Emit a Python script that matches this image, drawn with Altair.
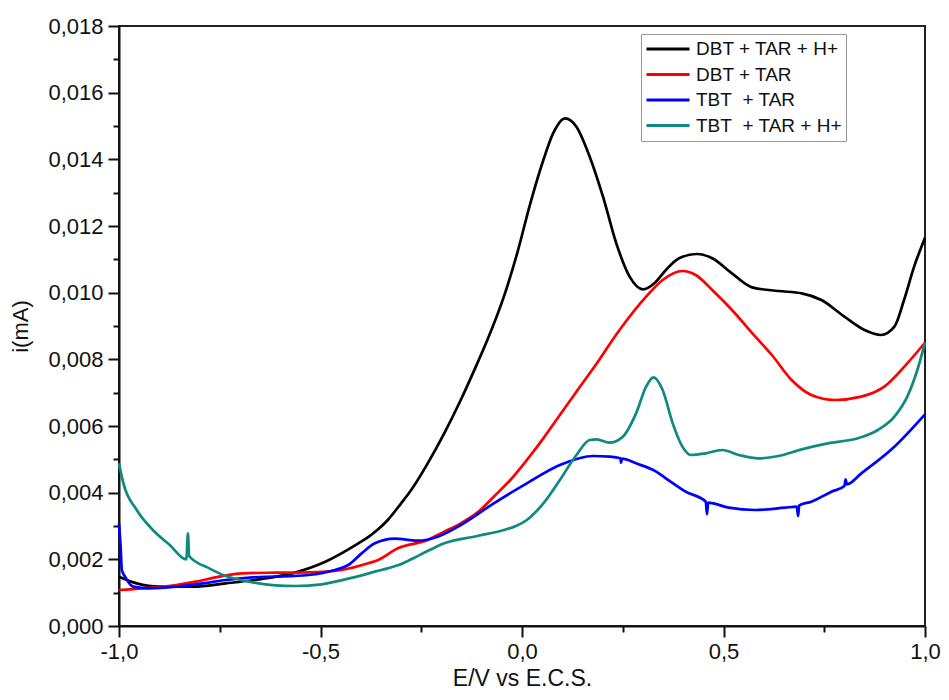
import altair as alt
import pandas as pd

# ---- data ----
series_names = ["DBT + TAR + H+", "DBT + TAR", "TBT\u00a0 + TAR", "TBT\u00a0 + TAR + H+"]
series_colors = ["#000000", "#ff0000", "#0000ff", "#0e8a80"]

E_black = [-1.0, -0.956, -0.899, -0.817, -0.735, -0.653, -0.571, -0.488, -0.406, -0.380,
           -0.357, -0.333, -0.300, -0.275, -0.234, -0.193, -0.152, -0.111, -0.086, -0.045,
           -0.012, 0.020, 0.053, 0.078, 0.107, 0.135, 0.168, 0.201, 0.234, 0.267,
           0.300, 0.330, 0.357, 0.390, 0.435, 0.472, 0.521, 0.571, 0.636, 0.694,
           0.743, 0.800, 0.850, 0.891, 0.924, 0.948, 0.973, 1.0]
I_black = [0.00148, 0.00128, 0.00118, 0.00118, 0.00128, 0.00140, 0.00158, 0.00193, 0.00248, 0.00268,
           0.00290, 0.00318, 0.00368, 0.00408, 0.00488, 0.00578, 0.00678, 0.00788, 0.00858, 0.00988,
           0.01118, 0.01265, 0.01398, 0.01480, 0.01523, 0.01498, 0.01408, 0.01288, 0.01148, 0.01048,
           0.01010, 0.01030, 0.01068, 0.01103, 0.01116, 0.01103, 0.01058, 0.01016, 0.01005, 0.00998,
           0.00978, 0.00928, 0.00888, 0.00873, 0.00898, 0.00978, 0.01078, 0.01165]

E_red = [-1.0, -0.940, -0.858, -0.809, -0.751, -0.694, -0.612, -0.530, -0.448, -0.382,
         -0.357, -0.308, -0.234, -0.193, -0.152, -0.111, -0.070, -0.029, 0.012, 0.053,
         0.094, 0.135, 0.177, 0.242, 0.308, 0.349, 0.398, 0.431, 0.472, 0.521,
         0.579, 0.620, 0.669, 0.718, 0.776, 0.842, 0.899, 0.956, 1.0]
I_red = [0.00108, 0.00113, 0.00123, 0.00133, 0.00148, 0.00158, 0.00160, 0.00161, 0.00168, 0.00188,
         0.00198, 0.00233, 0.00258, 0.00283, 0.00308, 0.00340, 0.00388, 0.00438, 0.00498, 0.00563,
         0.00633, 0.00703, 0.00773, 0.00888, 0.00988, 0.01038, 0.01065, 0.01053, 0.01008, 0.00948,
         0.00868, 0.00813, 0.00738, 0.00693, 0.00678, 0.00688, 0.00718, 0.00788, 0.00850]

E_blue = [-1.0, -0.996, -0.993, -0.985, -0.965, -0.924, -0.858, -0.792, -0.735, -0.669,
          -0.612, -0.530, -0.464, -0.431, -0.398, -0.365, -0.316, -0.259, -0.209, -0.152,
          -0.070, 0.012, 0.094, 0.177, 0.217, 0.244, 0.246, 0.248, 0.283, 0.333,
          0.357, 0.406, 0.456, 0.459, 0.462, 0.513, 0.579, 0.653, 0.682, 0.685,
          0.688, 0.718, 0.768, 0.800, 0.803, 0.806, 0.842, 0.924, 1.0]
I_blue = [0.00308, 0.00238, 0.00168, 0.00148, 0.00118, 0.00113, 0.00118, 0.00128, 0.00138, 0.00146,
          0.00148, 0.00153, 0.00168, 0.00183, 0.00218, 0.00248, 0.00262, 0.00256, 0.00268, 0.00303,
          0.00368, 0.00428, 0.00483, 0.00510, 0.00508, 0.00503, 0.00490, 0.00502, 0.00488, 0.00463,
          0.00443, 0.00403, 0.00373, 0.00335, 0.00370, 0.00355, 0.00348, 0.00355, 0.00358, 0.00330,
          0.00362, 0.00373, 0.00403, 0.00420, 0.00440, 0.00425, 0.00458, 0.00538, 0.00635]

E_teal = [-1.0, -0.989, -0.956, -0.916, -0.874, -0.833, -0.829, -0.826, -0.776, -0.735,
          -0.677, -0.612, -0.562, -0.497, -0.431, -0.398, -0.365, -0.333, -0.308, -0.275,
          -0.234, -0.193, -0.111, -0.045, -0.015, 0.012, 0.053, 0.094, 0.135, 0.168,
          0.185, 0.217, 0.250, 0.283, 0.308, 0.326, 0.349, 0.374, 0.398, 0.419,
          0.456, 0.497, 0.538, 0.587, 0.636, 0.694, 0.759, 0.833, 0.883, 0.924,
          0.956, 0.981, 1.0]
I_teal = [0.00488, 0.00428, 0.00348, 0.00288, 0.00243, 0.00200, 0.00278, 0.00210, 0.00173, 0.00150,
          0.00133, 0.00122, 0.00120, 0.00125, 0.00142, 0.00152, 0.00163, 0.00173, 0.00182, 0.00200,
          0.00225, 0.00248, 0.00270, 0.00288, 0.00300, 0.00318, 0.00368, 0.00438, 0.00513, 0.00558,
          0.00560, 0.00550, 0.00568, 0.00638, 0.00718, 0.00746, 0.00708, 0.00608, 0.00538, 0.00513,
          0.00518, 0.00528, 0.00513, 0.00503, 0.00510, 0.00530, 0.00548, 0.00563, 0.00588, 0.00628,
          0.00688, 0.00768, 0.00850]

x_ticks = [-1.0, -0.75, -0.5, -0.25, 0.0, 0.25, 0.5, 0.75, 1.0]
y_ticks = [round(k * 0.001, 3) for k in range(19)]

# ---- build table ----
frames = []
for name, E, I in zip(series_names, [E_black, E_red, E_blue, E_teal],
                      [I_black, I_red, I_blue, I_teal]):
    frames.append(pd.DataFrame({"E": E, "i": I, "serie": name}))
df = pd.concat(frames, ignore_index=True)

FONT = "Liberation Sans"

x_axis = alt.Axis(
    values=x_ticks,
    labelExpr="round(datum.value*4) % 2 == 0 ? replace(replace(format(datum.value, '.1f'), '.', ','), '\u2212', '-') : ''",
    tickSize={"condition": {"test": "round(datum.value*4) % 2 == 0", "value": 11}, "value": 6},
    grid=False, title="E/V vs E.C.S.", titleFontSize=23, titleFontWeight="normal",
    titleFont=FONT, labelFont=FONT, labelFontSize=22, labelPadding=4, titlePadding=5,
    labelColor="#111", titleColor="#111", labelFlush=False,
)
y_axis = alt.Axis(
    values=y_ticks,
    labelExpr="round(datum.value*1000) % 2 == 0 ? replace(format(datum.value, '.3f'), '.', ',') : ''",
    tickSize={"condition": {"test": "round(datum.value*1000) % 2 == 0", "value": 11}, "value": 6},
    grid=False, title="i(mA)", titleFontSize=22, titleFontWeight="normal",
    titleFont=FONT, labelFont=FONT, labelFontSize=22, labelPadding=5, titlePadding=15,
    labelColor="#111", titleColor="#111", labelFlush=False,
)

chart = alt.Chart(df).mark_line(strokeWidth=2.7, interpolate="monotone").encode(
    x=alt.X("E:Q", scale=alt.Scale(domain=[-1, 1], nice=False, zero=False), axis=x_axis),
    y=alt.Y("i:Q", scale=alt.Scale(domain=[0, 0.018], nice=False), axis=y_axis),
    color=alt.Color(
        "serie:N",
        scale=alt.Scale(domain=series_names, range=series_colors),
        legend=alt.Legend(
            orient="none", legendX=522, legendY=8, title=None,
            symbolType="stroke", symbolSize=1849, symbolStrokeWidth=3,
            labelFont=FONT, labelFontSize=19, labelColor="#111", labelOffset=5,
            strokeColor="#9a9a9a", fillColor="white", padding=4, rowPadding=3.5,
            clipHeight=22,
        ),
        sort=series_names,
    ),
    detail="serie:N",
).properties(
    width=806, height=600,
    autosize=alt.AutoSizeParams(type="none"),
    padding={"left": 111, "top": 18, "right": 16, "bottom": 80},
).configure_view(
    stroke="#222", strokeWidth=2
).configure_axis(
    domainColor="#111", domainWidth=2, tickColor="#111", tickWidth=2
)

chart.save("out.html", embed_options={"renderer": "svg", "actions": False})
